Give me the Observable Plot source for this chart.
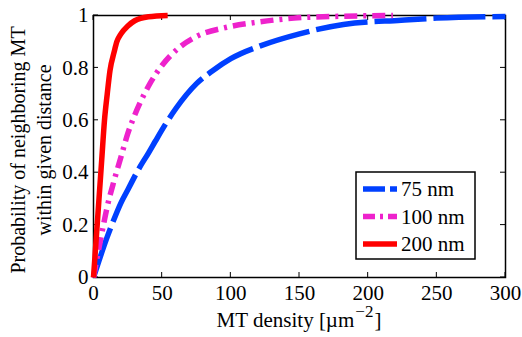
<!DOCTYPE html>
<html><head><meta charset="utf-8">
<script src="https://cdn.jsdelivr.net/npm/d3@7"></script>
<script src="https://cdn.jsdelivr.net/npm/@observablehq/plot@0.6"></script>
<style>
body{margin:0;background:#fff}
svg, svg text, svg tspan {font-family:"Liberation Serif", "Times New Roman", serif !important;}
</style>
</head><body><div id="chart"></div>
<script>
// Series
const seriesNames = ["75 nm", "100 nm", "200 nm"];
const seriesColors = ["#0040ff", "#ee22cc", "#ff0000"];

const x75 = [0, 5, 10, 14, 20, 25, 33, 40, 45, 53, 60, 75, 87, 100, 122, 150, 182, 224, 250, 300];
const y75 = [0, 0.08, 0.155, 0.21, 0.285, 0.335, 0.415, 0.475, 0.52, 0.59, 0.645, 0.74, 0.79, 0.835, 0.885, 0.93, 0.966, 0.982, 0.99, 0.996];

const x100 = [0, 5, 10, 15, 20, 25, 30, 40, 50, 63, 75, 97, 120, 146, 180, 218];
const y100 = [0, 0.14, 0.27, 0.37, 0.46, 0.55, 0.62, 0.73, 0.81, 0.88, 0.92, 0.955, 0.975, 0.99, 0.997, 1];

const x200 = [0, 2, 4, 6, 8, 10, 12, 15, 17, 20, 25, 30, 40, 54];
const y200 = [0, 0.15, 0.3, 0.45, 0.6, 0.7, 0.79, 0.86, 0.9, 0.93, 0.96, 0.98, 0.995, 1];

const xTicks = [0, 50, 100, 150, 200, 250, 300];
const yTicks = [0, 0.2, 0.4, 0.6, 0.8, 1];
const xLabel = "MT density [µm";
const xLabelSup = "−2";
const xLabelEnd = "]";
const yLabelLines = ["Probability of neighboring MT", "within given distance"];

const FONT = "'Liberation Serif', 'Times New Roman', serif";
const toRows = (xs, ys) => xs.map((x, i) => ({x, y: ys[i]}));
const rows = [toRows(x75, y75), toRows(x100, y100), toRows(x200, y200)];
const dashes = ["52,7", "13,6,3,6", null];
const legendDashes = ["22,5,7,5", "12,5,3,5", null];

const plot = Plot.plot({
  width: 522, height: 337,
  marginLeft: 93, marginRight: 17, marginTop: 15, marginBottom: 60,
  style: {fontSize: "21px", fontFamily: FONT, background: "white", color: "black"},
  x: {domain: [0, 300], ticks: xTicks, label: null},
  y: {domain: [0, 1], ticks: yTicks, label: null},
  marks: [
    Plot.frame({stroke: "black", strokeWidth: 1.5}),
    Plot.axisX({ticks: xTicks, tickSize: 0, tickPadding: 8, tickFormat: d => String(d), label: null}),
    Plot.axisY({ticks: yTicks, tickSize: 0, tickPadding: 5, tickFormat: d => String(d), label: null}),
    ...rows.map((r, i) => Plot.line(r, {
      x: "x", y: "y", stroke: seriesColors[i], strokeWidth: 5.5, curve: "monotone-x",
      strokeDasharray: dashes[i] ?? undefined, strokeLinecap: "butt", strokeLinejoin: "round"
    }))
  ]
});
plot.style.fontFamily = FONT;
document.getElementById("chart").appendChild(plot);

const svg = d3.select(plot);
const sx = plot.scale("x"), sy = plot.scale("y");
const X = v => sx.apply(v), Y = v => sy.apply(v);
const x0 = X(0), x1 = X(300), y0 = Y(0), y1 = Y(1);
const tl = 5;
const tg = svg.append("g").attr("stroke", "black").attr("stroke-width", 1);
xTicks.forEach(t => {
  tg.append("line").attr("x1", X(t)).attr("x2", X(t)).attr("y1", y0).attr("y2", y0 - tl);
  tg.append("line").attr("x1", X(t)).attr("x2", X(t)).attr("y1", y1).attr("y2", y1 + tl);
});
yTicks.forEach(t => {
  tg.append("line").attr("y1", Y(t)).attr("y2", Y(t)).attr("x1", x0).attr("x2", x0 + tl);
  tg.append("line").attr("y1", Y(t)).attr("y2", Y(t)).attr("x1", x1).attr("x2", x1 - tl);
});
svg.selectAll("g[aria-label='line']").raise();

// x label: main text, superscript and closing bracket as adjacent texts
const mk = (txt, size) => svg.append("text").attr("text-anchor", "start").attr("font-size", size)
  .attr("fill", "black").attr("font-family", FONT).text(txt);
const tMain = mk(xLabel, 21), tSup = mk(xLabelSup, 17), tEnd = mk(xLabelEnd, 21);
const wMain = tMain.node().getComputedTextLength();
const wSup = tSup.node().getComputedTextLength();
const wEnd = tEnd.node().getComputedTextLength();
const total = wMain + wSup + wEnd + 2;
const startX = (x0 + x1) / 2 - total / 2;
const baseY = 327;
tMain.attr("x", startX).attr("y", baseY);
tSup.attr("x", startX + wMain + 1).attr("y", baseY - 10);
tEnd.attr("x", startX + wMain + wSup + 2).attr("y", baseY);

// y label
const ym = 150;
[25, 51].forEach((bx, i) => {
  svg.append("text").attr("transform", `translate(${bx},${ym}) rotate(-90)`)
    .attr("text-anchor", "middle").attr("font-size", 20).attr("fill", "black")
    .attr("font-family", FONT).text(yLabelLines[i]);
});

// legend
const lg = svg.append("g");
lg.append("rect").attr("x", 356).attr("y", 172).attr("width", 119).attr("height", 87)
  .attr("fill", "white").attr("stroke", "black").attr("stroke-width", 1.5);
seriesNames.forEach((name, i) => {
  const cy = 189 + i * 27.5;
  lg.append("line").attr("x1", 363).attr("x2", 397).attr("y1", cy).attr("y2", cy)
    .attr("stroke", seriesColors[i]).attr("stroke-width", 5.5)
    .attr("stroke-dasharray", legendDashes[i]);
  lg.append("text").attr("x", 401).attr("y", cy).attr("dy", "0.35em")
    .attr("text-anchor", "start").attr("font-size", 21).attr("fill", "black")
    .attr("font-family", FONT).text(name);
});
</script>
</body></html>
